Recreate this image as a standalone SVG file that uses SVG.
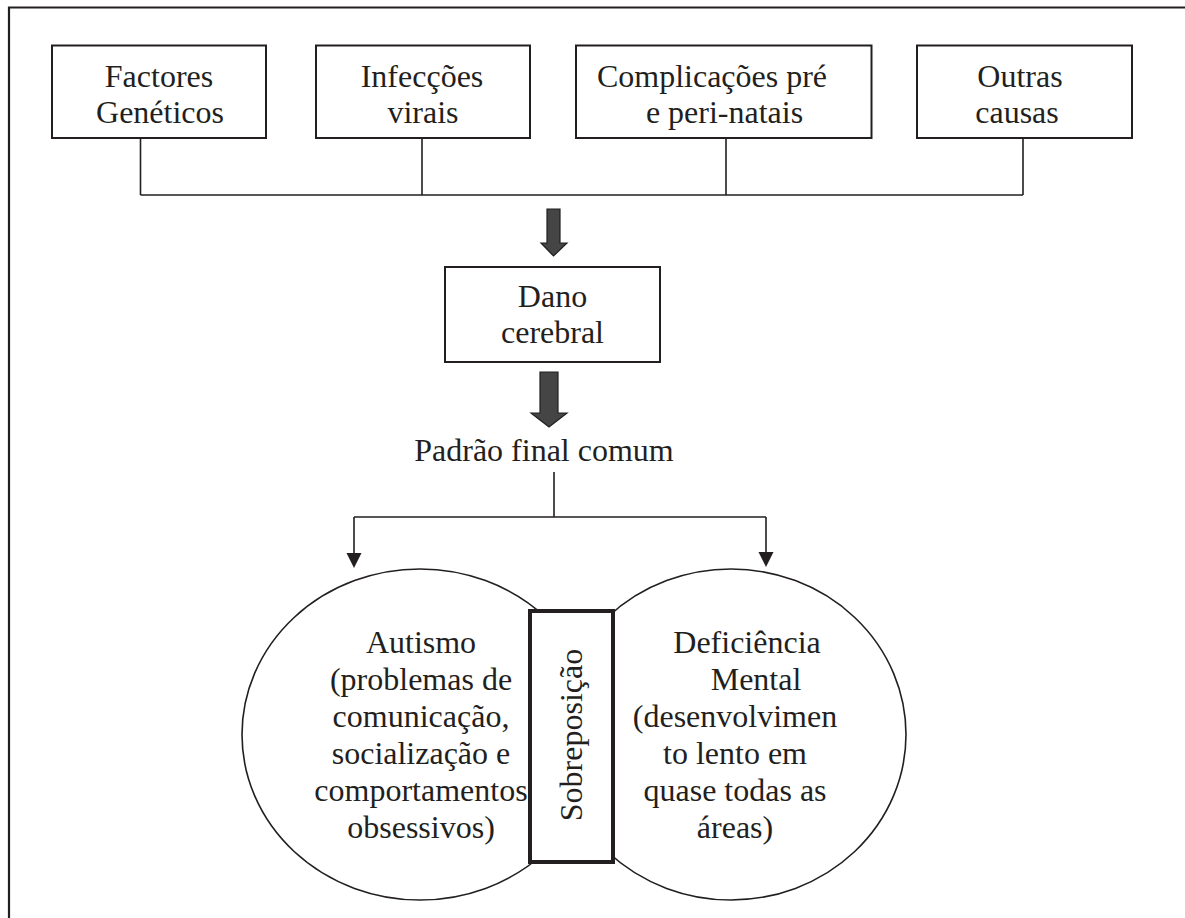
<svg xmlns="http://www.w3.org/2000/svg" width="1185" height="918" viewBox="0 0 1185 918">
<style>
.t{font-family:"Liberation Serif","Times New Roman",serif;font-size:32px;fill:#231f20;text-anchor:middle}
.box{fill:#fff;stroke:#231f20;stroke-width:2}
.ln{fill:none;stroke:#231f20;stroke-width:1.6}
.big{fill:#454545;stroke:#231f20;stroke-width:1.2}
.head{fill:#231f20;stroke:none}
.ell{fill:#fff;stroke:#231f20;stroke-width:1.6}
</style>
<rect width="1185" height="918" fill="#fff"/>
<path d="M9,930 V7.5 H1195" fill="none" stroke="#231f20" stroke-width="2.2"/>
<g id="connectors">
<path class="ln" d="M140.5,138 V195 M422,138 V195 M726,138 V195 M1023,138 V195 M140.5,195 H1023"/>
<path class="big" d="M547,209 H560 V243 H567 L553.5,256 L541,243 H547 Z"/>
<path class="big" d="M540,372 H558 V413 H567 L549,427 L531,413 H540 Z"/>
<path class="ln" d="M554,472 V517 M354,517 H766 M354,517 V555 M766,517 V554"/>
<path class="head" d="M346.5,553 H361.5 L354,568 Z"/>
<path class="head" d="M758.5,552 H773.5 L766,567 Z"/>
</g>
<g id="n1"><rect class="box" x="52" y="45.5" width="214" height="92.5"/>
<text class="t" x="159" y="87">Factores</text><text class="t" x="160" y="123">Genéticos</text></g>
<g id="n2"><rect class="box" x="316" y="45.5" width="214" height="92.5"/>
<text class="t" x="422" y="87">Infecções</text><text class="t" x="423" y="123">virais</text></g>
<g id="n3"><rect class="box" x="576" y="45.5" width="295.5" height="92.5"/>
<text class="t" x="712" y="87">Complicações pré</text><text class="t" x="724.5" y="123">e peri-natais</text></g>
<g id="n4"><rect class="box" x="917" y="45.5" width="215" height="92.5"/>
<text class="t" x="1020" y="87">Outras</text><text class="t" x="1017" y="123">causas</text></g>
<g id="dano"><rect class="box" x="445" y="267" width="215" height="95"/>
<text class="t" x="552.5" y="307">Dano</text><text class="t" x="552.5" y="343">cerebral</text></g>
<g id="padrao"><text class="t" x="544" y="461">Padrão final comum</text></g>
<g id="autismo"><ellipse class="ell" cx="420" cy="734.5" rx="178" ry="165.5"/>
<text class="t" x="421" y="653">Autismo</text>
<text class="t" x="421" y="690">(problemas de</text>
<text class="t" x="421" y="727">comunicação,</text>
<text class="t" x="421" y="764">socialização e</text>
<text class="t" x="421" y="801">comportamentos</text>
<text class="t" x="421" y="838">obsessivos)</text></g>
<g id="deficiencia"><ellipse class="ell" cx="731" cy="734.5" rx="175" ry="165.5"/>
<text class="t" x="747" y="653">Deficiência</text>
<text class="t" x="756" y="690">Mental</text>
<text class="t" x="735" y="727">(desenvolvimen</text>
<text class="t" x="735" y="764">to lento em</text>
<text class="t" x="735" y="801">quase todas as</text>
<text class="t" x="735" y="838">áreas)</text></g>
<g id="sobreposicao"><rect x="530" y="611" width="83" height="251" fill="#fff" stroke="#231f20" stroke-width="4"/>
<text class="t" transform="translate(582,735) rotate(-90)" x="0" y="0">Sobreposição</text></g>
</svg>
